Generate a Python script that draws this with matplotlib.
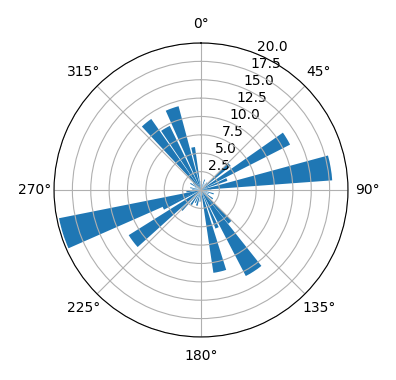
import numpy as np
import matplotlib
matplotlib.use("Agg")
import matplotlib.pyplot as plt

# bar direction (deg, clockwise from north), length and angular width (deg)
theta_deg = [0, 9.7, 19.5, 29, 39, 48, 59, 68, 80.3, 90, 97, 107, 117, 127,
             138, 147, 157, 167, 175, 185, 195, 204, 214, 224, 233, 244.5,
             252.5, 263, 272, 282, 292, 302, 311, 321, 330, 340.5, 349.5]
radii = [1.2, 0.8, 1.5, 1.0, 1.3, 5.2, 13.6, 3.8, 17.9, 1.4, 1.1, 1.8, 1.2, 2.0,
         5.9, 13.2, 5.6, 11.4, 1.3, 1.6, 2.2, 1.9, 2.4, 3.8, 11.6, 5.7,
         19.7, 2.0, 1.2, 1.5, 0.9, 1.7, 1.4, 11.8, 9.7, 11.8, 5.9]
width_deg = [4, 3, 5, 3, 4, 6, 8, 6, 11, 4, 3, 5, 4, 5,
             6, 11, 5, 9, 4, 5, 6, 5, 6, 5, 10, 5,
             12.5, 5, 4, 5, 3, 5, 4, 8, 8, 9, 5]

fig = plt.figure(figsize=(3.96, 3.8), dpi=100)
ax = fig.add_axes([0.1364, 0.1132, 0.7424, 0.7737], projection='polar')
ax.set_theta_zero_location('N')
ax.set_theta_direction(-1)

ax.bar(np.deg2rad(theta_deg), radii, width=np.deg2rad(width_deg), bottom=0.0,
       color='#1f77b4')
ax.set_ylim(0, 20)
ax.set_yticks(np.arange(2.5, 20.1, 2.5))
ax.grid(True)

fig.savefig('out.png', dpi=100)
